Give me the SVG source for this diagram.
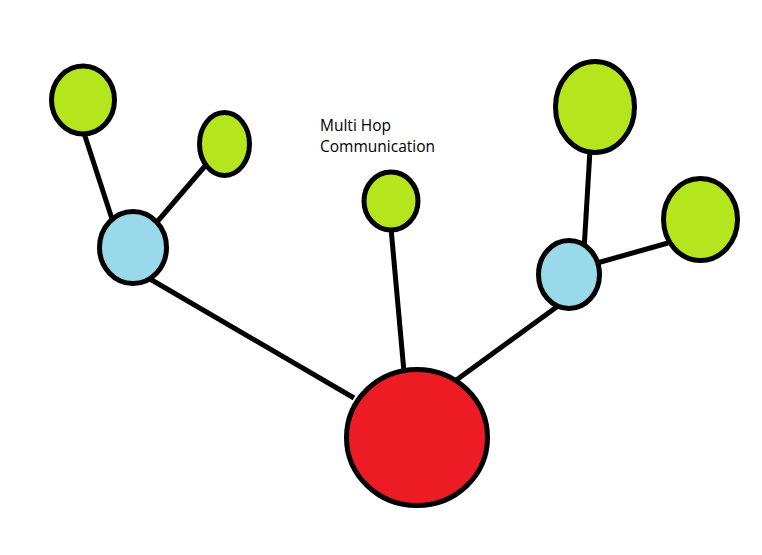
<svg xmlns="http://www.w3.org/2000/svg" width="762" height="555" viewBox="0 0 762 555">
<style>
.edge{stroke:#000;stroke-width:5;fill:none}
.node{stroke:#000;stroke-width:5}
.green{fill:#B5E61D}
.blue{fill:#99D9EA}
.red{fill:#ED1C24}
.label{font-family:"Open Sans","Noto Sans",sans-serif;font-size:15.5px;fill:#000}
</style>
<rect width="762" height="555" fill="#fff"/>
<g id="connectors">
<line class="edge" x1="83" y1="130" x2="113" y2="222"/>
<line class="edge" x1="205" y1="166" x2="157" y2="222"/>
<line class="edge" x1="150" y1="279" x2="354" y2="398"/>
<line class="edge" x1="391" y1="228" x2="404" y2="372"/>
<line class="edge" x1="455" y1="381" x2="558" y2="306"/>
<line class="edge" x1="590" y1="150" x2="584" y2="250"/>
<line class="edge" x1="597" y1="263" x2="668" y2="243"/>
</g>
<g id="leaf-top-left"><ellipse class="node green" cx="83" cy="100" rx="31.5" ry="34"/></g>
<g id="leaf-small-left"><ellipse class="node green" cx="224.5" cy="144" rx="25" ry="31.5"/></g>
<g id="hub-left"><ellipse class="node blue" cx="133" cy="247.5" rx="33.5" ry="36"/></g>
<g id="leaf-middle"><ellipse class="node green" cx="391" cy="201" rx="27" ry="29"/></g>
<g id="leaf-top-right"><ellipse class="node green" cx="595" cy="107" rx="39.5" ry="45.5"/></g>
<g id="leaf-right"><ellipse class="node green" cx="700.5" cy="219.5" rx="37" ry="41"/></g>
<g id="hub-right"><ellipse class="node blue" cx="569" cy="274.5" rx="30.5" ry="34"/></g>
<g id="root"><ellipse class="node red" cx="417" cy="437.5" rx="70.5" ry="68"/></g>
<g id="label">
<text class="label" x="320" y="131">Multi Hop</text>
<text class="label" x="320" y="152">Communication</text>
</g>
</svg>
